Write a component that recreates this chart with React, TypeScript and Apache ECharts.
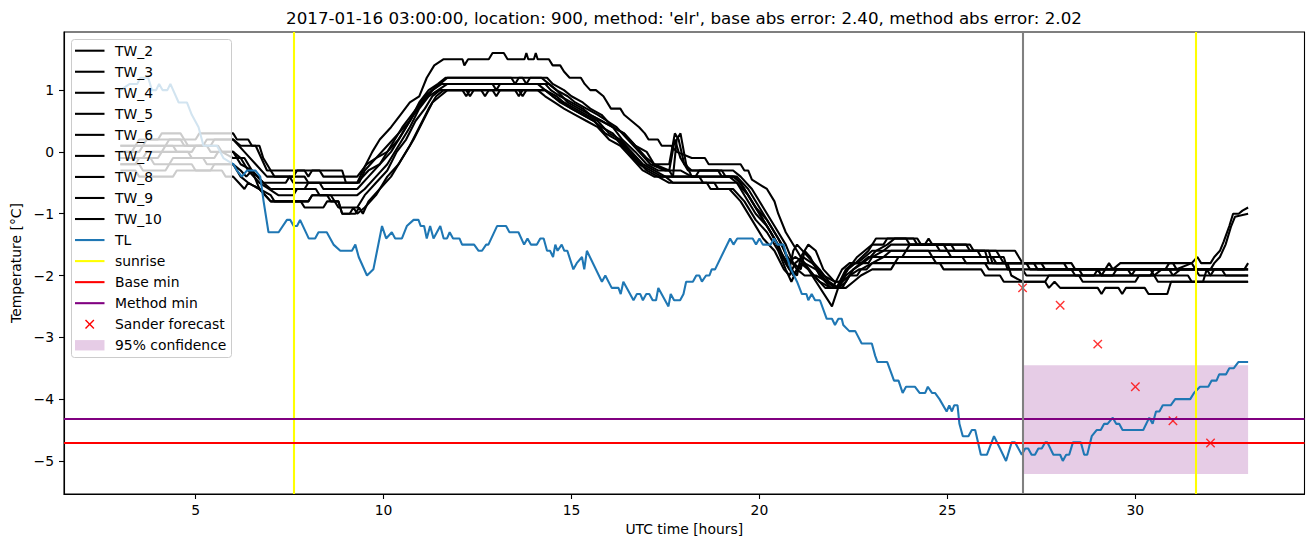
import React, { useEffect, useRef } from "react";
import * as echarts from "echarts";

const titleText =
  "2017-01-16 03:00:00, location: 900, method: 'elr', base abs error: 2.40, method abs error: 2.02";
const xAxisName = "UTC time [hours]";
const yAxisName = "Temperature [°C]";
const xTicks = [5, 10, 15, 20, 25, 30];
const yTicks = [-5, -4, -3, -2, -1, 0, 1];

const tw2 = [[3.0,0.1],[3.4,0.1],[3.5,0.2],[4.0,0.2],[4.1,0.3],[4.6,0.3],[4.7,0.2],[5.0,0.2],[5.1,0.3],[6.0,0.3],[6.1,0.2],[6.4,0.2],[6.5,0.1],[6.7,0.1],[6.8,-0.1],[7.0,-0.3],[7.1,-0.4],[7.5,-0.4],[7.6,-0.5],[9.3,-0.5],[9.45,-0.3],[9.7,0.0],[9.9,0.2],[10.2,0.4],[10.45,0.6],[10.7,0.8],[10.95,0.9],[11.15,1.2],[11.35,1.4],[11.6,1.5],[12.1,1.5],[12.15,1.4],[12.25,1.5],[12.8,1.5],[12.9,1.6],[13.2,1.6],[13.3,1.5],[13.75,1.5],[13.8,1.6],[13.85,1.5],[14.0,1.5],[14.05,1.6],[14.1,1.5],[14.4,1.5],[14.5,1.4],[14.7,1.4],[14.8,1.3],[14.95,1.2],[15.25,1.2],[15.35,1.1],[15.5,1.0],[15.65,1.0],[15.85,0.9],[16.05,0.7],[16.3,0.7],[16.4,0.6],[16.6,0.5],[16.8,0.4],[16.95,0.3],[17.05,0.2],[17.3,0.2],[17.4,0.1],[17.65,0.1],[17.8,0.0],[18.2,-0.1],[18.55,-0.1],[18.65,-0.2],[19.5,-0.2],[19.6,-0.3],[19.7,-0.3],[19.8,-0.45],[20.2,-0.6],[20.4,-0.8],[20.5,-1.0],[20.7,-1.3],[21.0,-1.6],[21.4,-2.0],[21.93,-2.5],[22.15,-2.1],[22.35,-1.9],[22.55,-1.8],[22.9,-1.6],[23.1,-1.4],[24.1,-1.4],[24.2,-1.5],[24.4,-1.5],[24.5,-1.4],[24.6,-1.5],[25.5,-1.5],[25.6,-1.6],[26.0,-1.6],[26.1,-1.8],[28.1,-1.8],[28.2,-1.9],[30.8,-1.9],[30.9,-1.8],[31.0,-1.8],[31.1,-1.9],[31.5,-1.8],[31.65,-1.7],[31.75,-1.8],[32.0,-1.8],[32.1,-1.7],[32.25,-1.6],[32.35,-1.45],[32.5,-1.2],[32.6,-1.0],[32.75,-1.0],[32.85,-0.95],[33.0,-0.9]];
const tw3 = [[3.0,0.1],[3.6,0.1],[3.7,0.2],[4.7,0.2],[4.8,0.1],[5.2,0.1],[5.3,0.2],[6.0,0.2],[6.2,0.1],[6.6,0.1],[6.9,-0.3],[7.9,-0.3],[8.0,-0.4],[8.1,-0.3],[8.9,-0.3],[9.0,-0.5],[9.35,-0.5],[9.5,-0.3],[9.8,-0.1],[10.1,0.1],[10.4,0.3],[10.7,0.5],[10.9,0.7],[11.1,0.9],[11.3,1.0],[11.5,1.1],[11.7,1.2],[13.4,1.2],[13.5,1.1],[13.6,1.2],[14.2,1.2],[14.4,1.1],[14.6,1.0],[14.75,0.9],[14.9,0.8],[15.2,0.7],[15.5,0.6],[15.8,0.5],[16.1,0.4],[16.4,0.3],[16.7,0.1],[17.0,-0.1],[17.2,-0.2],[17.6,-0.2],[17.75,0.3],[17.85,0.2],[18.0,-0.2],[18.2,-0.3],[19.3,-0.3],[19.5,-0.4],[19.8,-0.6],[20.1,-0.9],[20.4,-1.2],[20.7,-1.5],[20.9,-1.8],[21.1,-1.9],[21.2,-1.6],[21.35,-1.7],[21.6,-2.0],[21.9,-2.2],[22.05,-2.2],[22.3,-1.9],[22.5,-1.8],[22.9,-1.8],[23.0,-1.7],[23.3,-1.6],[23.5,-1.5],[24.7,-1.5],[24.8,-1.6],[26.3,-1.6],[26.4,-1.7],[26.5,-1.8],[27.5,-1.8],[27.6,-1.9],[29.2,-1.9],[29.3,-1.8],[29.4,-1.9],[29.6,-1.8],[31.5,-1.8],[31.6,-1.9],[32.0,-1.9],[32.1,-1.8],[32.25,-1.7],[32.4,-1.5],[32.55,-1.2],[32.65,-1.05],[33.0,-1.0]];
const tw4 = [[3.0,0.0],[3.3,0.0],[3.4,0.1],[4.2,0.1],[4.3,0.2],[4.6,0.2],[4.7,0.1],[5.4,0.1],[5.5,0.2],[6.0,0.2],[6.3,0.0],[6.6,-0.2],[6.9,-0.4],[7.6,-0.4],[7.7,-0.3],[8.3,-0.3],[8.4,-0.4],[9.3,-0.4],[9.55,-0.2],[9.8,-0.1],[10.1,0.0],[10.4,0.2],[10.7,0.5],[10.95,0.8],[11.2,1.0],[11.45,1.1],[11.65,1.2],[13.7,1.2],[13.8,1.1],[13.9,1.2],[14.35,1.2],[14.5,1.1],[14.8,1.0],[15.0,0.9],[15.3,0.8],[15.5,0.7],[15.8,0.6],[16.1,0.4],[16.4,0.3],[16.7,0.1],[17.0,0.0],[17.2,-0.2],[17.6,-0.3],[17.75,0.2],[17.9,-0.1],[18.1,-0.3],[19.0,-0.3],[19.1,-0.4],[19.4,-0.4],[19.7,-0.6],[20.0,-0.9],[20.3,-1.2],[20.6,-1.5],[20.85,-1.9],[21.0,-2.0],[21.1,-1.7],[21.3,-1.5],[21.5,-1.6],[21.7,-1.9],[22.0,-2.1],[22.15,-2.1],[22.35,-1.9],[22.6,-1.7],[22.8,-1.6],[23.0,-1.5],[23.3,-1.5],[23.4,-1.4],[24.2,-1.4],[24.3,-1.5],[25.1,-1.5],[25.2,-1.6],[26.1,-1.6],[26.2,-1.8],[27.3,-1.8],[27.4,-1.9],[28.3,-1.9],[28.4,-2.0],[29.1,-2.0],[29.2,-1.9],[30.4,-1.9],[30.5,-2.0],[30.7,-1.9],[31.6,-1.9],[31.7,-2.0],[32.0,-2.0],[32.1,-1.9],[32.9,-1.9],[33.0,-1.8]];
const tw5 = [[3.0,0.0],[3.5,0.0],[3.6,0.1],[4.4,0.1],[4.5,0.0],[4.9,0.0],[5.0,0.1],[5.6,0.1],[5.7,0.0],[6.0,-0.1],[6.3,-0.1],[6.5,-0.3],[6.8,-0.5],[7.4,-0.5],[7.5,-0.4],[7.9,-0.4],[8.0,-0.5],[9.3,-0.5],[9.6,-0.3],[9.9,-0.2],[10.2,0.0],[10.5,0.3],[10.8,0.6],[11.05,0.8],[11.3,1.0],[11.5,1.1],[12.9,1.1],[13.0,1.0],[13.1,1.1],[14.4,1.1],[14.6,1.0],[14.9,0.9],[15.1,0.8],[15.4,0.7],[15.7,0.6],[15.95,0.5],[16.2,0.4],[16.5,0.2],[16.8,0.0],[17.1,-0.2],[17.5,-0.3],[17.9,-0.3],[18.2,-0.4],[19.2,-0.4],[19.4,-0.5],[19.7,-0.7],[20.0,-1.0],[20.3,-1.3],[20.55,-1.6],[20.75,-1.8],[20.95,-1.7],[21.2,-1.8],[21.45,-2.0],[21.75,-2.2],[21.95,-2.2],[22.2,-1.9],[22.4,-1.8],[22.6,-1.8],[22.8,-1.7],[23.0,-1.6],[23.9,-1.6],[24.0,-1.5],[25.6,-1.5],[25.7,-1.6],[26.8,-1.6],[26.9,-1.7],[27.0,-1.8],[28.3,-1.8],[28.4,-1.9],[29.8,-1.9],[29.9,-2.0],[30.0,-1.9],[31.9,-1.9],[32.0,-2.0],[33.0,-2.0]];
const tw6 = [[3.0,-0.1],[3.6,-0.1],[3.7,0.0],[4.1,0.0],[4.2,0.1],[5.3,0.1],[5.4,0.0],[6.0,0.0],[6.2,-0.2],[6.5,-0.3],[6.8,-0.5],[7.0,-0.6],[7.9,-0.6],[8.0,-0.5],[8.3,-0.5],[8.4,-0.6],[9.3,-0.6],[9.6,-0.4],[9.9,-0.2],[10.2,0.1],[10.5,0.4],[10.75,0.6],[11.0,0.8],[11.3,1.0],[11.55,1.1],[14.3,1.1],[14.45,1.0],[14.7,0.9],[15.0,0.8],[15.3,0.7],[15.5,0.6],[15.8,0.5],[16.1,0.4],[16.35,0.2],[16.7,0.0],[17.0,-0.2],[17.3,-0.3],[17.6,-0.3],[17.7,-0.4],[18.3,-0.4],[18.4,-0.3],[18.9,-0.3],[19.0,-0.4],[19.35,-0.4],[19.6,-0.6],[19.9,-0.9],[20.2,-1.1],[20.5,-1.4],[20.75,-1.7],[21.0,-1.9],[21.2,-2.0],[21.5,-2.0],[21.8,-2.1],[22.0,-2.2],[22.1,-2.2],[22.3,-2.0],[22.5,-1.9],[22.7,-1.8],[22.9,-1.7],[23.8,-1.7],[23.9,-1.6],[25.0,-1.6],[25.1,-1.7],[26.5,-1.7],[26.6,-1.9],[28.5,-1.9],[28.6,-2.0],[29.4,-2.0],[29.5,-1.9],[30.9,-1.9],[31.0,-2.0],[31.2,-1.9],[32.3,-1.9],[32.4,-2.0],[33.0,-2.0]];
const tw7 = [[3.0,-0.2],[3.4,-0.2],[3.5,-0.1],[4.0,-0.1],[4.1,0.0],[4.8,0.0],[4.9,-0.1],[5.5,-0.1],[5.6,0.0],[6.0,0.0],[6.2,-0.1],[6.4,-0.3],[6.7,-0.5],[6.95,-0.6],[7.2,-0.7],[7.6,-0.7],[7.7,-0.6],[8.2,-0.6],[8.3,-0.7],[9.3,-0.7],[9.5,-0.6],[9.8,-0.4],[10.1,-0.2],[10.4,0.1],[10.7,0.4],[10.95,0.7],[11.2,0.9],[11.45,1.0],[11.7,1.1],[14.1,1.1],[14.3,1.0],[14.6,0.9],[14.8,0.8],[15.1,0.7],[15.4,0.6],[15.7,0.5],[16.0,0.3],[16.3,0.2],[16.6,0.0],[16.9,-0.2],[17.2,-0.3],[17.5,-0.4],[17.7,-0.4],[17.8,0.2],[17.9,0.3],[18.05,-0.2],[18.2,-0.4],[19.3,-0.4],[19.5,-0.5],[19.8,-0.8],[20.1,-1.1],[20.4,-1.4],[20.6,-1.7],[20.8,-1.9],[20.9,-1.6],[21.0,-1.5],[21.3,-1.7],[21.6,-1.9],[21.85,-2.1],[22.1,-2.2],[22.3,-2.1],[22.5,-1.9],[22.75,-1.8],[22.95,-1.7],[23.1,-1.6],[23.4,-1.5],[23.6,-1.4],[23.9,-1.4],[24.0,-1.5],[24.9,-1.5],[25.0,-1.6],[25.8,-1.6],[25.9,-1.7],[26.2,-1.7],[26.3,-1.8],[27.1,-1.8],[27.2,-1.9],[29.0,-1.9],[29.1,-2.0],[31.4,-2.0],[31.5,-2.1],[31.8,-2.1],[31.9,-1.9],[33.0,-1.9]];
const tw8 = [[3.0,-0.1],[3.8,-0.1],[3.9,-0.2],[4.3,-0.2],[4.4,-0.1],[5.2,-0.1],[5.3,-0.2],[6.0,-0.2],[6.2,-0.4],[6.4,-0.5],[6.7,-0.6],[7.0,-0.8],[8.0,-0.8],[8.1,-0.7],[8.6,-0.7],[8.8,-0.9],[9.3,-0.9],[9.5,-0.7],[9.8,-0.5],[10.1,-0.3],[10.35,0.0],[10.6,0.2],[10.85,0.5],[11.1,0.7],[11.3,0.9],[11.5,1.0],[12.2,1.0],[12.3,0.9],[12.4,1.0],[12.9,1.0],[13.0,0.9],[13.1,1.0],[14.3,1.0],[14.5,0.9],[14.75,0.8],[15.0,0.7],[15.3,0.6],[15.6,0.5],[15.9,0.3],[16.2,0.2],[16.5,0.0],[16.8,-0.2],[17.1,-0.3],[17.4,-0.4],[18.4,-0.4],[18.5,-0.5],[19.4,-0.5],[19.6,-0.7],[19.9,-1.0],[20.2,-1.2],[20.5,-1.5],[20.7,-1.8],[20.9,-2.0],[21.1,-1.8],[21.3,-1.9],[21.6,-2.1],[21.9,-2.2],[22.2,-2.2],[22.4,-2.0],[22.65,-1.9],[22.85,-1.9],[23.0,-1.8],[23.3,-1.7],[23.5,-1.6],[24.5,-1.6],[24.6,-1.7],[25.4,-1.7],[25.5,-1.8],[26.6,-1.8],[26.7,-2.0],[27.0,-2.1],[27.6,-2.1],[27.7,-2.2],[27.85,-2.1],[28.0,-2.2],[29.0,-2.2],[29.1,-2.3],[29.2,-2.2],[29.55,-2.2],[29.65,-2.3],[29.75,-2.2],[30.25,-2.2],[30.35,-2.3],[30.85,-2.3],[30.95,-2.1],[33.0,-2.1]];
const tw9 = [[3.0,-0.2],[3.5,-0.2],[3.6,-0.3],[4.2,-0.3],[4.3,-0.2],[4.9,-0.2],[5.0,-0.3],[5.4,-0.3],[5.5,-0.2],[6.0,-0.2],[6.2,-0.3],[6.35,-0.4],[6.5,-0.3],[6.7,-0.6],[7.0,-0.7],[7.1,-0.8],[8.0,-0.8],[8.1,-0.7],[8.5,-0.7],[8.6,-0.8],[8.8,-0.8],[8.9,-1.0],[9.25,-1.0],[9.35,-0.9],[9.45,-1.0],[9.6,-0.8],[9.9,-0.6],[10.2,-0.4],[10.5,-0.1],[10.8,0.2],[11.05,0.5],[11.3,0.8],[11.5,0.9],[11.7,1.0],[12.1,1.0],[12.2,0.9],[12.3,1.0],[13.6,1.0],[13.7,0.9],[13.8,1.0],[14.1,1.0],[14.3,0.9],[14.55,0.8],[14.8,0.7],[15.1,0.6],[15.4,0.5],[15.7,0.4],[16.0,0.2],[16.3,0.1],[16.6,-0.1],[16.9,-0.3],[17.2,-0.4],[17.5,-0.4],[17.7,-0.5],[18.6,-0.5],[18.7,-0.6],[19.2,-0.6],[19.5,-0.8],[19.8,-1.1],[20.1,-1.4],[20.4,-1.6],[20.65,-1.9],[20.8,-2.0],[20.95,-1.8],[21.15,-1.7],[21.4,-1.8],[21.7,-2.0],[22.0,-2.1],[22.2,-2.1],[22.4,-2.0],[22.6,-2.0],[22.7,-1.9],[23.0,-1.8],[23.6,-1.8],[23.7,-1.7],[24.6,-1.7],[24.7,-1.8],[26.0,-1.8],[26.1,-1.9],[27.0,-1.9],[27.1,-2.0],[28.9,-2.0],[29.0,-1.9],[29.1,-2.0],[30.5,-2.0],[30.6,-2.1],[33.0,-2.1]];
const tw10 = [[3.0,-0.3],[3.4,-0.3],[3.5,-0.4],[4.4,-0.4],[4.5,-0.3],[5.7,-0.3],[5.8,-0.4],[6.0,-0.4],[6.15,-0.5],[6.3,-0.6],[6.4,-0.5],[6.7,-0.6],[7.0,-0.8],[7.8,-0.8],[7.9,-0.9],[8.4,-0.9],[8.5,-0.8],[8.8,-0.8],[8.9,-1.0],[9.1,-1.0],[9.2,-0.9],[9.3,-1.0],[9.5,-0.9],[9.8,-0.7],[10.1,-0.4],[10.4,-0.2],[10.7,0.1],[10.95,0.4],[11.2,0.7],[11.4,0.9],[11.6,1.0],[12.6,1.0],[12.7,0.9],[12.8,1.0],[13.5,1.0],[13.6,0.9],[13.7,1.0],[14.3,1.0],[14.5,0.9],[14.7,0.8],[15.0,0.7],[15.3,0.6],[15.6,0.5],[15.8,0.4],[16.1,0.3],[16.4,0.1],[16.7,-0.1],[17.0,-0.3],[17.3,-0.4],[17.6,-0.5],[18.8,-0.5],[18.9,-0.6],[19.3,-0.6],[19.6,-0.8],[19.9,-1.1],[20.2,-1.3],[20.5,-1.6],[20.7,-1.9],[20.85,-2.1],[21.0,-1.9],[21.2,-1.8],[21.5,-1.9],[21.8,-2.1],[22.1,-2.2],[22.3,-2.2],[22.5,-2.1],[22.7,-2.0],[23.0,-1.9],[23.5,-1.9],[23.6,-1.8],[24.8,-1.8],[24.9,-1.9],[25.9,-1.9],[26.0,-2.0],[26.4,-2.0],[26.5,-2.1],[27.6,-2.1],[27.7,-2.0],[28.5,-2.0],[28.6,-2.1],[30.0,-2.1],[30.1,-2.0],[30.4,-2.0],[30.5,-1.9],[33.0,-1.9]];

const tl = [[3.0,1.0],[3.25,1.1],[3.45,1.1],[3.53,1.2],[3.74,1.2],[3.84,1.0],[3.95,1.0],[4.03,1.1],[4.12,1.0],[4.25,1.0],[4.33,1.1],[4.55,0.8],[4.77,0.8],[4.9,0.6],[5.08,0.4],[5.21,0.1],[5.57,0.1],[5.74,-0.1],[6.01,-0.2],[6.1,-0.3],[6.23,-0.4],[6.37,-0.3],[6.59,-0.3],[6.72,-0.4],[6.81,-0.8],[6.94,-1.3],[7.21,-1.3],[7.43,-1.1],[7.52,-1.1],[7.61,-1.2],[7.7,-1.2],[7.78,-1.1],[8.01,-1.4],[8.18,-1.4],[8.27,-1.3],[8.49,-1.3],[8.67,-1.5],[8.85,-1.6],[9.16,-1.6],[9.25,-1.5],[9.34,-1.7],[9.56,-2.0],[9.73,-1.9],[9.96,-1.2],[10.07,-1.4],[10.22,-1.3],[10.31,-1.4],[10.49,-1.4],[10.62,-1.2],[10.8,-1.1],[10.93,-1.1],[10.99,-1.2],[11.08,-1.2],[11.15,-1.4],[11.24,-1.2],[11.33,-1.4],[11.51,-1.2],[11.6,-1.4],[11.69,-1.4],[11.76,-1.3],[11.85,-1.4],[12.02,-1.4],[12.09,-1.5],[12.41,-1.5],[12.53,-1.6],[12.62,-1.6],[12.73,-1.5],[12.79,-1.5],[13.02,-1.2],[13.26,-1.2],[13.35,-1.3],[13.59,-1.3],[13.74,-1.5],[13.83,-1.4],[13.92,-1.5],[14.08,-1.5],[14.17,-1.4],[14.26,-1.4],[14.35,-1.6],[14.43,-1.6],[14.51,-1.7],[14.57,-1.5],[14.63,-1.6],[14.74,-1.5],[14.81,-1.6],[14.89,-1.6],[15.05,-1.9],[15.14,-1.8],[15.28,-1.7],[15.34,-1.9],[15.41,-1.6],[15.81,-2.1],[15.9,-2.0],[16.07,-2.2],[16.25,-2.2],[16.31,-2.3],[16.38,-2.1],[16.65,-2.4],[16.74,-2.3],[16.83,-2.3],[16.9,-2.4],[16.99,-2.3],[17.07,-2.3],[17.16,-2.4],[17.25,-2.4],[17.31,-2.2],[17.58,-2.5],[17.64,-2.3],[17.73,-2.4],[17.89,-2.4],[17.98,-2.3],[18.05,-2.1],[18.23,-2.1],[18.32,-2.0],[18.4,-2.0],[18.47,-2.1],[18.58,-2.0],[18.67,-2.0],[18.73,-1.9],[18.82,-1.9],[19.22,-1.4],[19.31,-1.5],[19.41,-1.4],[19.82,-1.4],[19.91,-1.5],[20.0,-1.4],[20.09,-1.5],[20.3,-1.5],[20.39,-1.4],[20.48,-1.5],[20.64,-1.5],[20.73,-1.7],[20.84,-1.9],[21.0,-2.1],[21.13,-2.3],[21.25,-2.3],[21.3,-2.4],[21.39,-2.3],[21.48,-2.4],[21.61,-2.4],[21.79,-2.7],[21.93,-2.7],[22.01,-2.8],[22.1,-2.7],[22.19,-2.7],[22.23,-2.8],[22.39,-2.9],[22.55,-2.9],[22.72,-3.1],[22.99,-3.1],[23.08,-3.3],[23.14,-3.4],[23.4,-3.4],[23.52,-3.6],[23.58,-3.7],[23.7,-3.7],[23.81,-3.9],[23.9,-3.8],[24.14,-3.8],[24.26,-3.9],[24.41,-3.9],[24.48,-3.8],[24.59,-3.9],[24.67,-3.9],[24.79,-4.0],[24.98,-4.2],[25.05,-4.1],[25.12,-4.2],[25.18,-4.1],[25.27,-4.1],[25.32,-4.4],[25.41,-4.6],[25.56,-4.6],[25.65,-4.5],[25.74,-4.5],[25.89,-4.9],[26.05,-4.9],[26.24,-4.6],[26.4,-4.8],[26.56,-5.0],[26.71,-4.7],[26.8,-4.7],[26.98,-4.9],[27.07,-4.8],[27.15,-4.8],[27.24,-4.9],[27.33,-4.9],[27.42,-4.8],[27.51,-4.8],[27.6,-4.7],[27.66,-4.7],[27.82,-4.9],[28.0,-4.9],[28.07,-5.0],[28.16,-4.9],[28.24,-4.9],[28.34,-4.7],[28.55,-4.7],[28.64,-4.9],[28.72,-4.9],[28.84,-4.6],[28.97,-4.5],[29.08,-4.5],[29.17,-4.4],[29.26,-4.4],[29.4,-4.3],[29.49,-4.4],[29.57,-4.4],[29.66,-4.5],[30.21,-4.5],[30.37,-4.3],[30.46,-4.4],[30.55,-4.2],[30.64,-4.2],[30.73,-4.1],[30.94,-4.1],[31.06,-4.0],[31.46,-4.0],[31.56,-3.9],[31.72,-3.8],[31.94,-3.8],[32.03,-3.7],[32.16,-3.7],[32.23,-3.6],[32.41,-3.6],[32.5,-3.5],[32.62,-3.5],[32.74,-3.4],[33.0,-3.4]];

const sunriseHours = [7.61, 31.61];
const issueHour = [27];
const baseMin = [-4.7];
const methodMin = [-4.31];
const forecastHours = [27, 28, 29, 30, 31, 32];
const forecastValues = [-2.2, -2.48, -3.11, -3.8, -4.35, -4.71];
const confidenceHours = [27, 33];
const confidenceBounds = [-5.21, -3.45];

const twNames = ["TW_2", "TW_3", "TW_4", "TW_5", "TW_6", "TW_7", "TW_8", "TW_9", "TW_10"];
const twData = [tw2, tw3, tw4, tw5, tw6, tw7, tw8, tw9, tw10];

const FONT = '"DejaVu Sans", sans-serif';
const LW = 2.08;

const legendItems: { name: string; kind: string; color: string }[] = [
  ...twNames.map((n) => ({ name: n, kind: "line", color: "#000000" })),
  { name: "TL", kind: "line", color: "#1f77b4" },
  { name: "sunrise", kind: "line", color: "#ffff00" },
  { name: "Base min", kind: "line", color: "#ff0000" },
  { name: "Method min", kind: "line", color: "#800080" },
  { name: "Sander forecast", kind: "x", color: "#ff0000" },
  { name: "95% confidence", kind: "patch", color: "rgba(128,0,128,0.2)" },
];

function buildLegend() {
  const els: any[] = [];
  els.push({
    type: "rect",
    shape: { x: 71.5, y: 39.5, width: 160, height: 318, r: 3 },
    style: { fill: "rgba(255,255,255,0.8)", stroke: "#cccccc", lineWidth: 1 },
    z: 100,
  });
  legendItems.forEach((it, i) => {
    const cy = 50.7 + i * 21.04;
    if (it.kind === "line") {
      els.push({ type: "line", shape: { x1: 75, y1: cy, x2: 104.5, y2: cy }, style: { stroke: it.color, lineWidth: LW }, z: 101 });
    } else if (it.kind === "x") {
      const cx = 89.7, s = 4.2;
      els.push({ type: "line", shape: { x1: cx - s, y1: cy - s, x2: cx + s, y2: cy + s }, style: { stroke: it.color, lineWidth: 1.4 }, z: 101 });
      els.push({ type: "line", shape: { x1: cx - s, y1: cy + s, x2: cx + s, y2: cy - s }, style: { stroke: it.color, lineWidth: 1.4 }, z: 101 });
    } else {
      els.push({ type: "rect", shape: { x: 75, y: cy - 5.2, width: 29.5, height: 10.4 }, style: { fill: it.color }, z: 101 });
    }
    els.push({
      type: "text",
      x: 115,
      y: cy,
      z: 101,
      style: { text: it.name, font: `13.9px ${FONT}`, fill: "#000", align: "left", verticalAlign: "middle", textAlign: "left", textVerticalAlign: "middle" },
    });
  });
  els.push({
    type: "text",
    x: 684,
    y: 17.5,
    z: 101,
    style: { text: titleText, font: `16.7px ${FONT}`, fill: "#000", align: "center", verticalAlign: "middle", textAlign: "center", textVerticalAlign: "middle" },
  });
  return els;
}

const minus = (v: number) => String(v).replace("-", "\u2212");

function buildOption(): any {
  const series: any[] = [];
  twData.forEach((d, i) => {
    series.push({
      name: twNames[i], type: "line", data: d, symbol: "none", silent: true, z: 2,
      color: "#000000", lineStyle: { color: "#000000", width: LW },
    });
  });
  series.push({
    name: "TL", type: "line", data: tl, symbol: "none", silent: true, z: 2,
    color: "#1f77b4", lineStyle: { color: "#1f77b4", width: LW },
  });
  const vline = (name: string, values: number[], axis: string, color: string) => ({
    name, type: "line", data: [], symbol: "none", silent: true, z: 3, color,
    markLine: {
      silent: true, symbol: ["none", "none"], label: { show: false },
      lineStyle: { color, width: LW, type: "solid" },
      data: values.map((v) => ({ [axis]: v })),
    },
  });
  series.push(vline("sunrise", sunriseHours, "xAxis", "#ffff00"));
  series.push(vline("Base min", baseMin, "yAxis", "#ff0000"));
  series.push(vline("Method min", methodMin, "yAxis", "#800080"));
  series.push(vline("issue", issueHour, "xAxis", "#808080"));
  series.push({
    name: "Sander forecast", type: "scatter", silent: true, z: 4,
    data: forecastHours.map((h, i) => [h, forecastValues[i]]),
    symbol: "path://M0,0L10,10M10,0L0,10", symbolSize: 8.4,
    itemStyle: { color: "#ff0000", borderColor: "#ff0000", borderWidth: 1.4 },
  });
  series.push({
    name: "95% confidence", type: "line", data: [], symbol: "none", silent: true, z: 1,
    markArea: {
      silent: true,
      itemStyle: { color: "rgba(128,0,128,0.2)" },
      label: { show: false },
      data: [[{ xAxis: confidenceHours[0], yAxis: confidenceBounds[0] }, { xAxis: confidenceHours[1], yAxis: confidenceBounds[1] }]],
    },
  });

  return {
    animation: false,
    backgroundColor: "#ffffff",
    grid: { left: 64, right: 8.5, top: 32, bottom: 53, show: true, borderColor: "#000", borderWidth: 1.1, backgroundColor: "transparent" },
    xAxis: {
      type: "value", min: 1.5, max: 34.5,
      name: xAxisName, nameLocation: "middle", nameGap: 28,
      nameTextStyle: { color: "#000", fontFamily: FONT, fontSize: 13.9 },
      axisLine: { show: true, onZero: false, lineStyle: { color: "#000", width: 1.1 } },
      axisTick: { show: true, customValues: xTicks, length: 5, lineStyle: { color: "#000", width: 1.1 } },
      axisLabel: { customValues: xTicks, color: "#000", fontFamily: FONT, fontSize: 13.9, margin: 9 },
      splitLine: { show: false },
    },
    yAxis: {
      type: "value", min: -5.535, max: 1.94,
      name: yAxisName, nameLocation: "middle", nameGap: 41, nameRotate: 90,
      nameTextStyle: { color: "#000", fontFamily: FONT, fontSize: 13.9 },
      axisLine: { show: true, onZero: false, lineStyle: { color: "#000", width: 1.1 } },
      axisTick: { show: true, customValues: yTicks, length: 5, lineStyle: { color: "#000", width: 1.1 } },
      axisLabel: { customValues: yTicks, color: "#000", fontFamily: FONT, fontSize: 13.9, margin: 10, formatter: minus },
      splitLine: { show: false },
    },
    graphic: buildLegend(),
    series,
  };
}

export default function App() {
  const ref = useRef<HTMLDivElement>(null);
  useEffect(() => {
    const chart = echarts.init(ref.current!, null, { renderer: "svg" });
    chart.setOption(buildOption());
    return () => chart.dispose();
  }, []);
  return (
    <div
      ref={ref}
      style={{ position: "absolute", left: 0, top: 0, width: 1313, height: 547, background: "#fff" }}
    />
  );
}
